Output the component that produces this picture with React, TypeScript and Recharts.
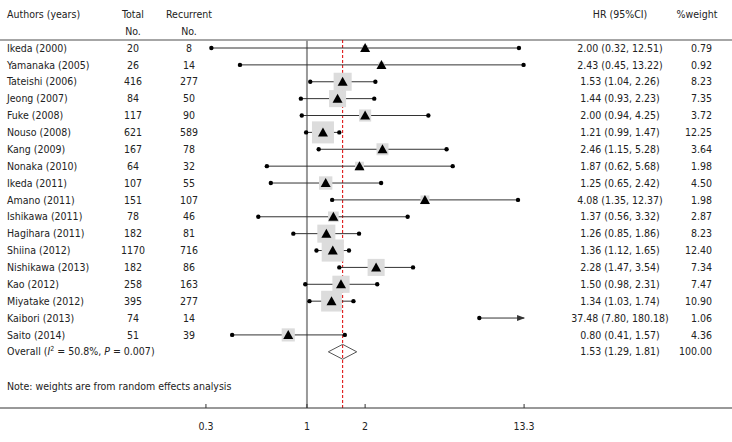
import { ComposedChart, XAxis, YAxis, Scatter, ReferenceLine, Customized } from 'recharts';

const authors = [
  'Ikeda (2000)', 'Yamanaka (2005)', 'Tateishi (2006)', 'Jeong (2007)', 'Fuke (2008)', 'Nouso (2008)',
  'Kang (2009)', 'Nonaka (2010)', 'Ikeda (2011)', 'Amano (2011)', 'Ishikawa (2011)', 'Hagihara (2011)',
  'Shiina (2012)', 'Nishikawa (2013)', 'Kao (2012)', 'Miyatake (2012)', 'Kaibori (2013)', 'Saito (2014)',
];
const totals = [20, 26, 416, 84, 117, 621, 167, 64, 107, 151, 78, 182, 1170, 182, 258, 395, 74, 51];
const recurrent = [8, 14, 277, 50, 90, 589, 78, 32, 55, 107, 46, 81, 716, 86, 163, 277, 14, 39];
const hr = [2.0, 2.43, 1.53, 1.44, 2.0, 1.21, 2.46, 1.87, 1.25, 4.08, 1.37, 1.26, 1.36, 2.28, 1.5, 1.34, 37.48, 0.8];
const lower = [0.32, 0.45, 1.04, 0.93, 0.94, 0.99, 1.15, 0.62, 0.65, 1.35, 0.56, 0.85, 1.12, 1.47, 0.98, 1.03, 7.8, 0.41];
const upper = [12.51, 13.22, 2.26, 2.23, 4.25, 1.47, 5.28, 5.68, 2.42, 12.37, 3.32, 1.86, 1.65, 3.54, 2.31, 1.74, 180.18, 1.57];
const weights = [0.79, 0.92, 8.23, 7.35, 3.72, 12.25, 3.64, 1.98, 4.5, 1.98, 2.87, 8.23, 12.4, 7.34, 7.47, 10.9, 1.06, 4.36];

const overallHr = 1.53;
const overallLower = 1.29;
const overallUpper = 1.81;
const overallWeight = 100;
const i2 = 50.8;
const pHet = 0.007;

const xTicks = [0.3, 1, 2, 13.3];

// the plot is cut at the last tick, anything past it gets an arrow
const xCap = xTicks[xTicks.length - 1];
const overallRow = authors.length;
const rowTicks = [...authors.map((_, i) => i), overallRow];

const FONT = "'DejaVu Sans Condensed', 'DejaVu Sans'";
const FS = 10.5;
const TEXT = '#222';

const studies = authors.map((name, i) => ({
  x: hr[i],
  y: i,
  w: weights[i],
}));
const visibleStudies = studies.filter((s) => s.x <= xCap);

const ends = authors.flatMap((_, i) => {
  const pts = [{ x: lower[i], y: i }];
  if (upper[i] <= xCap) pts.push({ x: upper[i], y: i });
  return pts;
});
const arrows = authors.map((_, i) => ({ x: xCap, y: i, over: upper[i] > xCap })).filter((p) => p.over);

const diamondHalf = 0.44;
const diamond = [
  { x: overallLower, y: overallRow },
  { x: overallHr, y: overallRow - diamondHalf },
  { x: overallUpper, y: overallRow },
  { x: overallHr, y: overallRow + diamondHalf },
  { x: overallLower, y: overallRow },
];

function fmt(v: number) {
  return v.toFixed(2);
}

function RowLabel(props: any) {
  const { y, payload } = props;
  const i = payload.value as number;
  const common = { fontFamily: FONT, fontStretch: 'condensed', fontSize: FS, fill: TEXT, dy: '0.35em' };
  if (i === overallRow) {
    return (
      <g>
        <text x={7} y={y} {...common}>
          Overall (<tspan fontStyle="italic">I</tspan>
          <tspan dy={-4} fontSize={7}>2</tspan>
          <tspan dy={4}> = {i2}%, </tspan>
          <tspan fontStyle="italic">P</tspan> = {pHet})
        </text>
        <text x={620} y={y} textAnchor="middle" {...common}>
          {`${fmt(overallHr)} (${fmt(overallLower)}, ${fmt(overallUpper)})`}
        </text>
        <text x={712} y={y} textAnchor="end" {...common}>
          {fmt(overallWeight)}
        </text>
      </g>
    );
  }
  return (
    <g>
      <text x={7} y={y} {...common}>{authors[i]}</text>
      <text x={133} y={y} textAnchor="middle" {...common}>{totals[i]}</text>
      <text x={189} y={y} textAnchor="middle" {...common}>{recurrent[i]}</text>
      <text x={620} y={y} textAnchor="middle" {...common}>
        {`${fmt(hr[i])} (${fmt(lower[i])}, ${fmt(upper[i])})`}
      </text>
      <text x={712} y={y} textAnchor="end" {...common}>{fmt(weights[i])}</text>
    </g>
  );
}

function AxisTick(props: any) {
  const { x, y, payload } = props;
  return (
    <g>
      <line x1={x} x2={x} y1={y - 4} y2={y} stroke="#333" />
      <text
        x={x}
        y={y + 18}
        textAnchor="middle"
        dy="0.35em"
        fontFamily={FONT}
        fontStretch="condensed"
        fontSize={FS}
        fill={TEXT}
      >
        {payload.value}
      </text>
    </g>
  );
}

function Header() {
  const t = { fontFamily: FONT, fontStretch: 'condensed', fontSize: FS, fill: TEXT, dy: '0.35em' };
  return (
    <g>
      <text x={7} y={14} {...t}>Authors (years)</text>
      <text x={133} y={14} textAnchor="middle" {...t}>Total</text>
      <text x={133} y={31} textAnchor="middle" {...t}>No.</text>
      <text x={189} y={14} textAnchor="middle" {...t}>Recurrent</text>
      <text x={189} y={31} textAnchor="middle" {...t}>No.</text>
      <text x={620} y={14} textAnchor="middle" {...t}>HR (95%CI)</text>
      <text x={697} y={14} textAnchor="middle" {...t}>%weight</text>
      <line x1={0} x2={732} y1={40} y2={40} stroke="#a6a6a6" strokeWidth={2} />
      <text x={7} y={386} {...t}>Note: weights are from random effects analysis</text>
    </g>
  );
}

function Box(props: any) {
  const { cx, cy, payload } = props;
  const s = 6.29 * Math.sqrt(payload.w);
  return <rect x={cx - s / 2} y={cy - s / 2} width={s} height={s} fill="#dcdcdc" />;
}

function Tri(props: any) {
  const { cx, cy } = props;
  return <polygon points={`${cx - 5},${cy + 4} ${cx + 5},${cy + 4} ${cx},${cy - 5}`} fill="#000" />;
}

function Dot(props: any) {
  const { cx, cy } = props;
  return <circle cx={cx} cy={cy} r={2.2} fill="#000" />;
}

function Arrow(props: any) {
  const { cx, cy } = props;
  return <polygon points={`${cx - 7},${cy - 3} ${cx + 1},${cy} ${cx - 7},${cy + 3}`} fill="#333" />;
}

export default function App() {
  return (
    <div style={{ position: 'absolute', left: 0, top: 0, width: 732, height: 442, background: '#fff' }}>
      <ComposedChart width={732} height={442} margin={{ top: 40, right: 0, bottom: 4, left: -10 }}>
        <XAxis
          dataKey="x"
          type="number"
          scale="log"
          domain={[0.02577, 158.5]}
          allowDataOverflow
          ticks={xTicks}
          interval={0}
          height={30}
          axisLine={{ stroke: '#333' }}
          tickLine={false}
          tickSize={0}
          tickMargin={0}
          tick={<AxisTick />}
        />
        <YAxis
          dataKey="y"
          type="number"
          domain={[-0.474, 21.33]}
          allowDataOverflow
          reversed
          ticks={rowTicks}
          interval={0}
          width={10}
          axisLine={false}
          tickLine={false}
          tick={<RowLabel />}
        />
        <Customized component={<Header />} />
        <ReferenceLine x={1} stroke="#999" strokeWidth={2} />
        <ReferenceLine x={overallHr} stroke="#d00" strokeDasharray="3 2" />
        {authors.map((_, i) => (
          <ReferenceLine
            key={authors[i] + i}
            segment={[
              { x: lower[i], y: i },
              { x: Math.min(upper[i], xCap), y: i },
            ]}
            stroke="#333"
          />
        ))}
        <Scatter data={visibleStudies} shape={<Box />} isAnimationActive={false} />
        <Scatter data={visibleStudies} shape={<Tri />} isAnimationActive={false} />
        <Scatter data={ends} shape={<Dot />} isAnimationActive={false} />
        <Scatter data={arrows} shape={<Arrow />} isAnimationActive={false} />
        <Scatter
          data={diamond}
          line={{ stroke: '#555', strokeWidth: 1 }}
          shape={() => <g />}
          isAnimationActive={false}
        />
      </ComposedChart>
    </div>
  );
}
